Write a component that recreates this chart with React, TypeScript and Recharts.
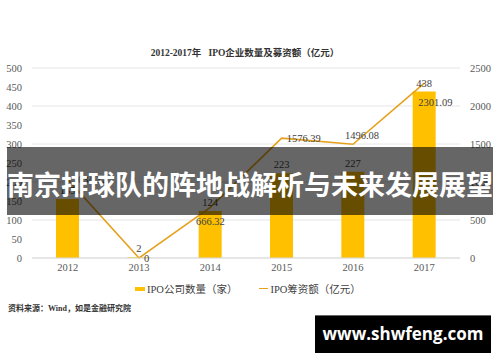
import React from 'react'
import {
  ComposedChart,
  Bar,
  Line,
  XAxis,
  YAxis,
  CartesianGrid,
  LabelList,
} from 'recharts'

// ─── Data ────────────────────────────────────────────────────────
const years = ['2012', '2013', '2014', '2015', '2016', '2017']
const ipoCount = [155, 2, 124, 223, 227, 438]
const ipoFunds = [1034.32, 0, 666.32, 1576.39, 1496.08, 2301.09]
const leftTicks = [0, 50, 100, 150, 200, 250, 300, 350, 400, 450, 500]
const rightTicks = [0, 500, 1000, 1500, 2000, 2500]
// where each funds label sits relative to its point
const fundLabelSides = ['right', 'right', 'below', 'right', 'aboveRight', 'belowRight']

const data = years.map((year, i) => ({ year, count: ipoCount[i], funds: ipoFunds[i] }))

const BAR_COLOR = '#FFC000'
const LINE_COLOR = '#E6A11C'
const SERIF = '"Liberation Serif", "Times New Roman", "Noto Sans CJK SC", serif'
const TEXT = '#404040'

function FundsLabel(props: any) {
  const { x, y, value, index } = props
  const side = fundLabelSides[index]
  let tx = x
  let ty = y
  let anchor: 'start' | 'middle' | 'end' = 'middle'
  if (side === 'right') {
    tx = x + 5
    anchor = 'start'
  } else if (side === 'below') {
    ty = y + 14
  } else if (side === 'aboveRight') {
    tx = x + 9
    ty = y - 9
  } else if (side === 'belowRight') {
    tx = x + 11
    ty = y + 19
  }
  return (
    <text x={tx} y={ty} dy="0.35em" textAnchor={anchor} fontSize={10.5} fontFamily={SERIF} fill={TEXT}>
      {value}
    </text>
  )
}

export default function App() {
  return (
    <div
      style={{
        position: 'absolute',
        left: 0,
        top: 0,
        width: 500,
        height: 362,
        background: '#fff',
        overflow: 'hidden',
      }}
    >
      <div
        style={{
          position: 'absolute',
          top: 45,
          left: 0,
          width: 490,
          textAlign: 'center',
          fontFamily: SERIF,
          fontSize: 9.5,
          fontWeight: 'bold',
          color: '#333',
          whiteSpace: 'pre',
        }}
      >
        {'2012-2017年   IPO企业数量及募资额（亿元）'}
      </div>

      <ComposedChart width={500} height={362} data={data} margin={{ top: 68, right: 0, bottom: 74, left: 0 }}>
        <CartesianGrid yAxisId="left" vertical={false} stroke="#E6E6E6" />
        <XAxis
          dataKey="year"
          height={30}
          tickLine={false}
          axisLine={{ stroke: '#D9D9D9' }}
          tickMargin={0}
          tick={{ fontSize: 10.5, fontFamily: SERIF, fill: '#595959' }}
        />
        <YAxis
          yAxisId="left"
          width={32}
          domain={[0, 500]}
          ticks={leftTicks}
          axisLine={false}
          tickLine={false}
          tickMargin={4}
          tick={{ fontSize: 10.5, fontFamily: SERIF, fill: '#595959' }}
        />
        <YAxis
          yAxisId="right"
          orientation="right"
          width={40}
          domain={[0, 2500]}
          ticks={rightTicks}
          axisLine={false}
          tickLine={false}
          tickMargin={4}
          tick={{ fontSize: 10.5, fontFamily: SERIF, fill: '#595959' }}
        />
        <Bar yAxisId="left" dataKey="count" fill={BAR_COLOR} barSize={23} isAnimationActive={false}>
          <LabelList dataKey="count" position="top" fontSize={10.5} fontFamily={SERIF} fill={TEXT} />
        </Bar>
        <Line
          yAxisId="right"
          type="linear"
          dataKey="funds"
          stroke={LINE_COLOR}
          strokeWidth={1.6}
          dot={false}
          isAnimationActive={false}
        >
          <LabelList dataKey="funds" content={FundsLabel} />
        </Line>
      </ComposedChart>

      {/* legend */}
      <div
        style={{
          position: 'absolute',
          top: 281,
          left: 135,
          display: 'flex',
          alignItems: 'center',
          fontFamily: SERIF,
          fontSize: 10.5,
          color: TEXT,
          whiteSpace: 'nowrap',
        }}
      >
        <div style={{ width: 10, height: 4, background: BAR_COLOR, marginRight: 2 }} />
        <span>IPO公司数量（家）</span>
        <div style={{ width: 9, height: 1.6, background: LINE_COLOR, marginLeft: 22, marginRight: 2 }} />
        <span>IPO筹资额（亿元）</span>
      </div>

      <div
        style={{
          position: 'absolute',
          top: 302,
          left: 8,
          fontFamily: SERIF,
          fontSize: 8,
          fontWeight: 'bold',
          color: '#333',
          whiteSpace: 'nowrap',
        }}
      >
        资料来源：Wind，如是金融研究院
      </div>

      {/* headline band */}
      <div
        style={{
          position: 'absolute',
          top: 147,
          left: 7,
          width: 486,
          height: 68,
          background: 'rgba(0,0,0,0.6)',
        }}
      />
      <div
        style={{
          position: 'absolute',
          top: 164,
          left: 0,
          width: 500,
          textAlign: 'center',
          fontFamily: '"Noto Sans CJK SC", sans-serif',
          fontWeight: 'bold',
          fontSize: 27,
          lineHeight: '40px',
          color: '#fff',
          whiteSpace: 'nowrap',
        }}
      >
        南京排球队的阵地战解析与未来发展展望
      </div>

      {/* watermark */}
      <div
        style={{
          position: 'absolute',
          top: 315,
          left: 315,
          width: 176,
          height: 38,
          background: '#000',
          borderTop: '1px solid #666',
          boxSizing: 'border-box',
          color: '#fff',
          fontFamily: '"Open Sans", "DejaVu Sans", sans-serif',
          fontWeight: 'bold',
          fontSize: 17,
          lineHeight: '36px',
          textAlign: 'center',
          whiteSpace: 'nowrap',
        }}
      >
        www.shwfeng.com
      </div>
    </div>
  )
}
